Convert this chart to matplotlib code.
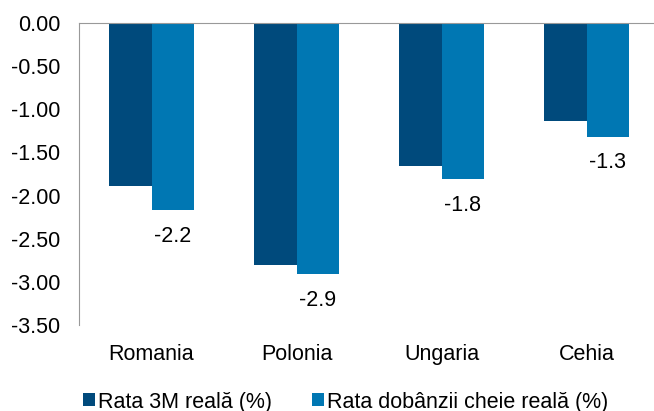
import matplotlib

matplotlib.use("Agg")
import matplotlib.pyplot as plt
import numpy as np

countries = ["Romania", "Polonia", "Ungaria", "Cehia"]
rata_3m = [-1.89, -2.80, -1.66, -1.13]
rata_cheie = [-2.17, -2.91, -1.81, -1.32]
label_cheie = ["-2.2", "-2.9", "-1.8", "-1.3"]
series_names = ["Rata 3M reală (%)", "Rata dobânzii cheie reală (%)"]
yticks = [0.0, -0.5, -1.0, -1.5, -2.0, -2.5, -3.0, -3.5]

DARK = "#004A7C"
LIGHT = "#0077B3"

plt.rcParams["font.family"] = ["Liberation Sans", "DejaVu Sans"]

fig = plt.figure(figsize=(6.54, 4.11), dpi=100)
ax = fig.add_axes([79 / 654, 1 - 325 / 411, 575 / 654, (325 - 23) / 411])

x = np.arange(len(countries))
w = 0.29
b1 = ax.bar(x - w / 2, rata_3m, w, color=DARK, label=series_names[0])
b2 = ax.bar(x + w / 2, rata_cheie, w, color=LIGHT, label=series_names[1])
for xi, v, t in zip(x, rata_cheie, label_cheie):
    ax.annotate(t, (xi + w / 2, v), xytext=(0, -26), textcoords="offset pixels",
                ha="center", va="center", fontsize=15.5)

ax.set_xlim(-0.5, -0.5 + 575 / 145)
ax.set_ylim(-3.5, 0)
ax.set_yticks(yticks)
ax.set_yticklabels([f"{v:.2f}" for v in yticks], fontsize=15.5)
ax.tick_params(axis="y", length=0, pad=13.5)
ax.set_xticks(x)
ax.set_xticklabels(countries, fontsize=15.5)
ax.tick_params(axis="x", length=0, pad=14)

for s in ("right", "bottom"):
    ax.spines[s].set_visible(False)
ax.spines["top"].set_color("#999999")
ax.spines["left"].set_color("#999999")

fig.legend(handles=[b1, b2], loc="center left", bbox_to_anchor=(83 / 654, 1 - 402 / 411),
           ncol=2, frameon=False, fontsize=15.5, handlelength=0.55, handleheight=0.55,
           handletextpad=0.15, columnspacing=1.85, borderaxespad=0, borderpad=0)

fig.savefig("out.png", dpi=100)
